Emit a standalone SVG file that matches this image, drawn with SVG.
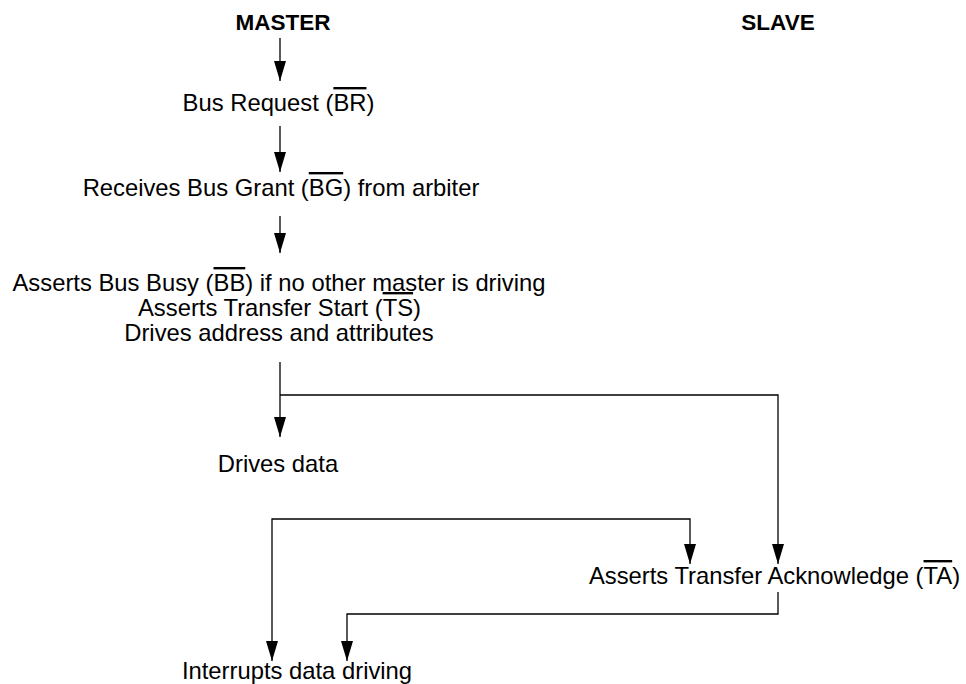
<svg xmlns="http://www.w3.org/2000/svg" width="966" height="684" viewBox="0 0 966 684">
<style>
  text { font-family: "Liberation Sans", Arial, sans-serif; font-size: 23.8px; fill: #000; text-anchor: middle; }
  .hdr { font-weight: bold; font-size: 22.5px; }
  .ob { text-decoration: overline; }
  .c { fill: none; stroke: #000; stroke-width: 1.3; }
</style>
<defs>
  <marker id="ah" markerUnits="userSpaceOnUse" markerWidth="20" markerHeight="12" viewBox="0 0 20 12" refX="20" refY="6" orient="auto-start-reverse">
    <path d="M0,0 L20,6 L0,12 Z" fill="#000"/>
  </marker>
</defs>
<g id="hdr-master"><text class="hdr" x="283" y="30">MASTER</text></g>
<g id="hdr-slave"><text class="hdr" x="778" y="30">SLAVE</text></g>
<g id="n-br"><text x="278.5" y="111">Bus Request (<tspan class="ob">BR</tspan>)</text></g>
<g id="n-bg"><text x="281" y="196">Receives Bus Grant (<tspan class="ob">BG</tspan>) from arbiter</text></g>
<g id="n-assert">
  <text x="279" y="291">Asserts Bus Busy (<tspan class="ob">BB</tspan>) if no other master is driving</text>
  <text x="279.5" y="316">Asserts Transfer Start (<tspan class="ob">TS</tspan>)</text>
  <text x="279" y="341">Drives address and attributes</text>
</g>
<g id="n-data"><text x="278" y="472">Drives data</text></g>
<g id="n-ta"><text x="774.5" y="584">Asserts Transfer Acknowledge (<tspan class="ob">TA</tspan>)</text></g>
<g id="n-int"><text x="297" y="679">Interrupts data driving</text></g>
<g id="connectors">
  <path class="c" d="M280,38 V81" marker-end="url(#ah)"/>
  <path class="c" d="M280,126 V172" marker-end="url(#ah)"/>
  <path class="c" d="M280,216 V253" marker-end="url(#ah)"/>
  <path class="c" d="M280,362 V437" marker-end="url(#ah)"/>
  <path class="c" d="M280,395 H778 V564" marker-end="url(#ah)"/>
  <path class="c" d="M272,661 V519 H690 V564" marker-start="url(#ah)" marker-end="url(#ah)"/>
  <path class="c" d="M778,592 V614 H347 V661" marker-end="url(#ah)"/>
</g>
</svg>
